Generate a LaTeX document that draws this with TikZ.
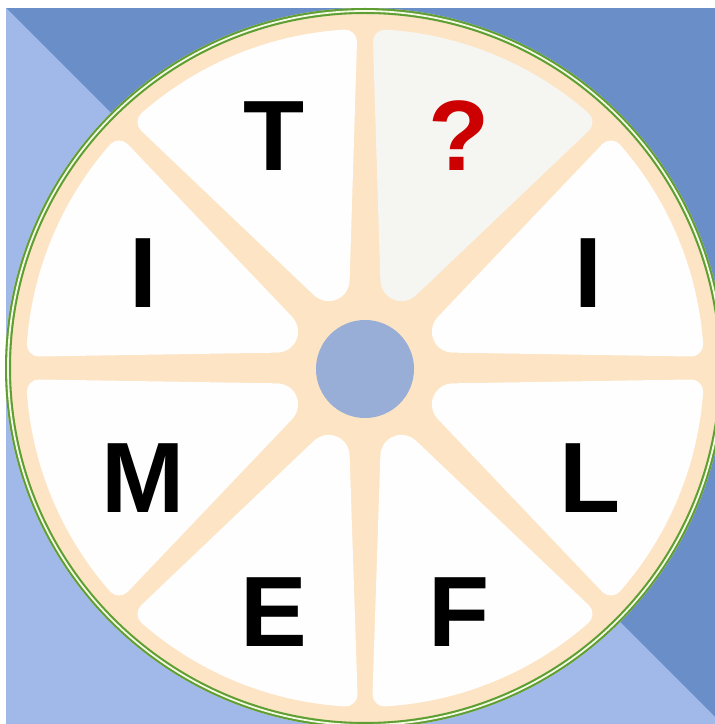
\documentclass[tikz,border=0pt]{standalone}
\usepackage{fontspec}
\setmainfont{Liberation Sans}
\usetikzlibrary{calc}
\definecolor{bgdark}{HTML}{6A8FC8}
\definecolor{bglight}{HTML}{A0B9E9}
\definecolor{peach}{HTML}{FDE4C4}
\definecolor{rimgreen}{HTML}{5E9E32}
\definecolor{rimlight}{HTML}{F4F9E4}
\definecolor{hubblue}{HTML}{98AED6}
\definecolor{secwhite}{HTML}{FEFEFE}
\definecolor{secgray}{HTML}{F5F5F2}
\definecolor{qred}{HTML}{CC0000}
\tikzset{
  wheel radius/.store in=\WheelRad,
  sector out/.store in=\OutRad,
  tip dist/.store in=\TipDist,
  tip small/.store in=\TipSmall,
  corner radius/.store in=\CornerRad,
  wheel radius=357,
  corner radius=12,
  sector out=327,  % outer edge of a sector, minus the corner radius
  tip dist=95,     % centre of the rounded inner tip
  tip small=9,     % tip radius, minus the corner radius
  letter/.style={font=\bfseries\fontsize{100}{100}\selectfont, inner sep=0pt}
}

\begin{document}
\begin{tikzpicture}[x=1pt, y=1pt, line join=round]

  \useasboundingbox (0,0) rectangle (715,724);
  \clip (0,0) rectangle (715,724);

  % Background: white margin, two blue halves split along the diagonal
  \fill[white] (0,0) rectangle (715,724);
  \fill[bgdark] (6,0) rectangle (715,716);
  \fill[bglight] (6,716) -- (715,7) -- (715,0) -- (6,0) -- cycle;

  \coordinate (C) at (365,356);

  % Wheel with its green rim
  \fill[peach] (C) circle (\WheelRad+3);
  \draw[rimgreen, line width=6] (C) circle (\WheelRad);
  \draw[rimlight, line width=1.8] (C) circle (\WheelRad);

  % Eight sectors: shrunk shape, widened again by a round stroke
  % \hA, \hB: half widths of the spokes on either side
  \foreach \a/\hA/\hB/\fc in {0/11.5/9.5/secwhite, 45/9.5/8/secgray,
      90/8/9.5/secwhite, 135/9.5/11.5/secwhite, 180/11.5/9.5/secwhite,
      225/9.5/7.5/secwhite, 270/7.5/9.5/secwhite, 315/9.5/11.5/secwhite}{
    \pgfmathsetmacro\dA{asin((\hA+\CornerRad)/\OutRad)}
    \pgfmathsetmacro\dB{asin((\hB+\CornerRad)/\OutRad)}
    \coordinate (K) at ($(C)+(\a+22.5:\TipDist)$);
    \filldraw[fill=\fc, draw=\fc, line width=2*\CornerRad]
      ($(C)+(\a+\dA:\OutRad)$) -- ($(K)+(\a-90:\TipSmall)$)
      arc[start angle={\a-90}, end angle={\a-225}, radius=\TipSmall]
      -- ($(C)+(\a+45-\dB:\OutRad)$)
      arc[start angle={\a+45-\dB}, end angle={\a+\dA}, radius=\OutRad]
      -- cycle;
  }

  % Hub
  \fill[hubblue] ($(C)+(0,-1)$) circle (49);

  % Letters
  \node[letter] (t) at (274,588) {T};
  \node[letter, text=qred] (q) at (459,588) {?};
  \node[letter] (iright) at (588,451) {I};
  \node[letter] (ileft) at (143,451) {I};
  \node[letter] (m) at (143,246) {M};
  \node[letter] (l) at (590,246) {L};
  \node[letter] (e) at (274,112) {E};
  \node[letter] (f) at (459,112) {F};
\end{tikzpicture}
\end{document}
